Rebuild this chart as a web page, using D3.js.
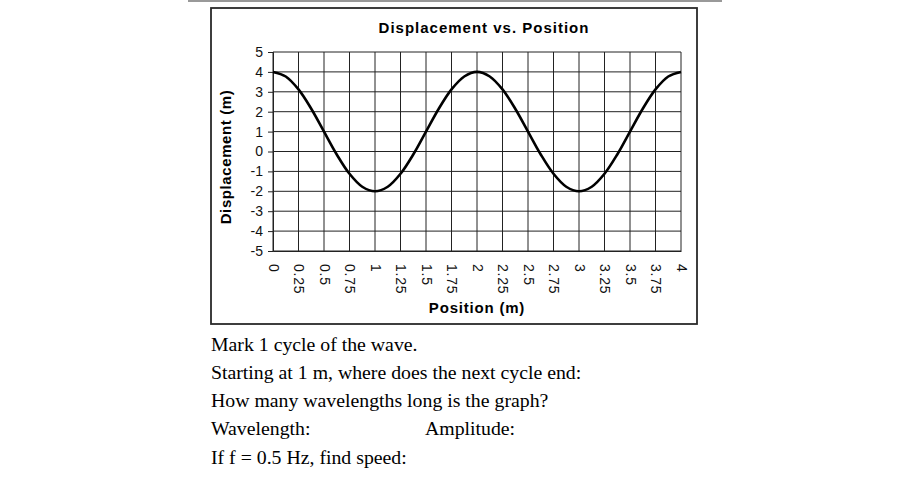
<!DOCTYPE html>
<html>
<head>
<meta charset="utf-8">
<script src="https://cdn.jsdelivr.net/npm/d3@7"></script>
<style>
  body { margin: 0; background: #fff; }
  svg { display: block; }
</style>
</head>
<body>
<div id="chart"></div>
<script>
// readings, every 0.125 m
const positions = [0, 0.125, 0.25, 0.375, 0.5, 0.625, 0.75, 0.875, 1, 1.125, 1.25, 1.375, 1.5, 1.625, 1.75, 1.875, 2,
  2.125, 2.25, 2.375, 2.5, 2.625, 2.75, 2.875, 3, 3.125, 3.25, 3.375, 3.5, 3.625, 3.75, 3.875, 4]
const displacement = [4, 3.77, 3.12, 2.15, 1, -0.15, -1.12, -1.77, -2, -1.77, -1.12, -0.15, 1, 2.15, 3.12, 3.77, 4,
  3.77, 3.12, 2.15, 1, -0.15, -1.12, -1.77, -2, -1.77, -1.12, -0.15, 1, 2.15, 3.12, 3.77, 4]
const xTicks = [0, 0.25, 0.5, 0.75, 1, 1.25, 1.5, 1.75, 2, 2.25, 2.5, 2.75, 3, 3.25, 3.5, 3.75, 4]
const yTicks = [-5, -4, -3, -2, -1, 0, 1, 2, 3, 4, 5]
const questions = [
  'Mark 1 cycle of the wave.',
  'Starting at 1 m, where does the next cycle end:',
  'How many wavelengths long is the graph?',
  'Wavelength:',
  'If f = 0.5 Hz, find speed:'
]

const width = 913
const height = 480
const plot = {left: 273, right: 681, top: 52, bottom: 251}
const sans = 'Liberation Sans, Arial, sans-serif'

const svg = d3.select('#chart').append('svg')
  .attr('width', width)
  .attr('height', height)

// rule at the top of the page
svg.append('line')
  .attr('x1', 188).attr('x2', 722)
  .attr('y1', 1).attr('y2', 1)
  .attr('stroke', '#999').attr('stroke-width', 2)

// chart frame
svg.append('rect')
  .attr('x', 211).attr('y', 8)
  .attr('width', 486).attr('height', 316)
  .attr('fill', 'none').attr('stroke', '#2a2a2a').attr('stroke-width', 1.8)

const x = d3.scaleLinear().domain([0, 4]).range([plot.left, plot.right])
const y = d3.scaleLinear().domain([-5, 5]).range([plot.bottom, plot.top])

const grid = svg.append('g').attr('stroke', '#222').attr('stroke-width', 1)
grid.selectAll('.vgrid').data(xTicks).enter().append('line')
  .attr('x1', d => x(d)).attr('x2', d => x(d))
  .attr('y1', plot.top).attr('y2', plot.bottom)
grid.selectAll('.hgrid').data(yTicks).enter().append('line')
  .attr('x1', plot.left).attr('x2', plot.right)
  .attr('y1', d => y(d)).attr('y2', d => y(d))

const yAxis = svg.append('g')
  .attr('transform', 'translate(' + plot.left + ',0)')
  .call(d3.axisLeft(y).tickValues(yTicks).tickSize(5).tickPadding(5).tickFormat(d => String(d)))
yAxis.select('.domain').attr('stroke', '#222')
yAxis.selectAll('line').attr('stroke', '#222')
yAxis.selectAll('text')
  .attr('font-family', sans)
  .attr('font-size', 14).attr('fill', '#111')

const xAxis = svg.append('g')
  .attr('transform', 'translate(0,' + plot.bottom + ')')
  .call(d3.axisBottom(x).tickValues(xTicks).tickSize(0).tickFormat(d => String(d)))
xAxis.select('.domain').attr('stroke', '#222')
xAxis.selectAll('text')
  .attr('font-family', sans)
  .attr('font-size', 14).attr('fill', '#111')
  .attr('letter-spacing', 0.8)
  .attr('text-anchor', 'start')
  .attr('transform', 'rotate(90)')
  .attr('x', 13).attr('y', 0).attr('dy', '0.35em')

const line = d3.line()
  .x((d, i) => x(positions[i]))
  .y(d => y(d))
  .curve(d3.curveCatmullRom)

svg.append('path')
  .datum(displacement)
  .attr('d', line)
  .attr('fill', 'none')
  .attr('stroke', '#000')
  .attr('stroke-width', 2.6)

svg.append('text')
  .attr('x', 484).attr('y', 33)
  .attr('text-anchor', 'middle')
  .attr('font-family', sans).attr('font-weight', 'bold').attr('font-size', 15)
  .attr('letter-spacing', 1)
  .text('Displacement vs. Position')

svg.append('text')
  .attr('transform', 'translate(231,157) rotate(-90)')
  .attr('text-anchor', 'middle')
  .attr('font-family', sans).attr('font-weight', 'bold').attr('font-size', 15)
  .attr('letter-spacing', 0.6)
  .text('Displacement (m)')

svg.append('text')
  .attr('x', 477).attr('y', 313)
  .attr('text-anchor', 'middle')
  .attr('font-family', sans).attr('font-weight', 'bold').attr('font-size', 15)
  .attr('letter-spacing', 0.8)
  .text('Position (m)')

const q = svg.append('g')
  .attr('font-family', 'Liberation Serif, Times New Roman, serif')
  .attr('font-size', 19.8).attr('fill', '#000')
q.selectAll('text').data(questions).enter().append('text')
  .attr('x', 211)
  .attr('y', (d, i) => 350.5 + i * 28.3)
  .text(d => d)
q.append('text')
  .attr('x', 425).attr('y', 350.5 + 3 * 28.3)
  .text('Amplitude:')
</script>
</body>
</html>
